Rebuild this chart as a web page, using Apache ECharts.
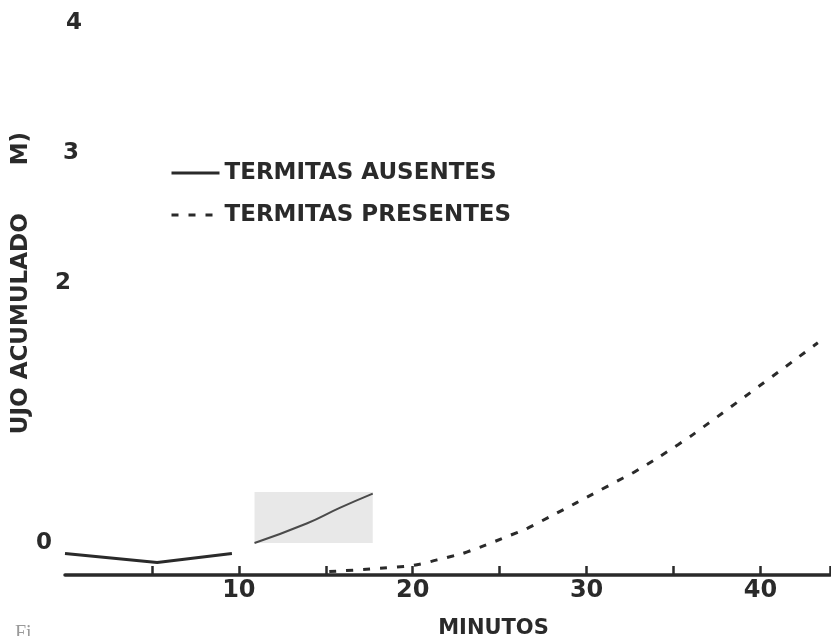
<!DOCTYPE html>
<html>
<head>
<meta charset="utf-8">
<script src="https://cdn.jsdelivr.net/npm/echarts@6/dist/echarts.min.js"></script>
<style>
  html, body { margin: 0; padding: 0; background: #ffffff; }
  #chart { width: 831px; height: 636px; }
</style>
</head>
<body>
<div id="chart"></div>
<script>
// ---- data (minutes, cumulative flow) ----
var xTickLabels = [10, 20, 30, 40];
var yTickLabels = [0, 2, 3, 4];
// TERMITAS AUSENTES: first visible stretch near the axis
var ausentesA = [[0, -0.08], [5.3, -0.15], [9.6, -0.08]];
// TERMITAS AUSENTES: stretch visible in the pasted patch
var ausentesB = [[10.9, 0.0], [13.9, 0.15], [15.8, 0.27], [17.7, 0.38]];
// TERMITAS PRESENTES (dashed)
var presentes = [
  [15.2, -0.22], [19.5, -0.18], [20.5, -0.16], [21.4, -0.13], [22.3, -0.10],
  [23.1, -0.07], [26.0, 0.08], [26.7, 0.12], [32.1, 0.50], [32.8, 0.55],
  [35.3, 0.76], [37.0, 0.92], [43.3, 1.54]
];
var seriesNames = ['TERMITAS AUSENTES', 'TERMITAS PRESENTES'];
var xName = 'MINUTOS';
var yName = 'UJO ACUMULADO      M)';

var ink = '#2a2a2a';
var font = 'DejaVu Sans';

var chart = echarts.init(document.getElementById('chart'), null, { renderer: 'canvas' });

chart.setOption({
  animation: false,
  backgroundColor: '#ffffff',
  grid: { left: 65, right: 1, top: 23, bottom: 93, containLabel: false, outerBoundsMode: 'none' },
  legend: {
    orient: 'vertical',
    left: 165,
    top: 155,
    itemWidth: 48,
    itemHeight: 12,
    itemGap: 16,
    data: seriesNames,
    itemStyle: { opacity: 0 },
    lineStyle: { width: 3 },
    textStyle: { color: ink, fontFamily: font, fontWeight: 'bold', fontSize: 23, lineHeight: 26 }
  },
  xAxis: {
    type: 'value',
    min: 0,
    max: 44,
    interval: 5,
    offset: 32,
    name: xName,
    nameLocation: 'middle',
    nameGap: 43,
    nameTextStyle: { color: ink, fontFamily: font, fontWeight: 'bold', fontSize: 21, padding: [0, 0, 0, 92] },
    axisLine: { show: true, onZero: false, lineStyle: { color: ink, width: 3.5 } },
    axisTick: { show: true, inside: true, length: 9, lineStyle: { color: ink, width: 2.5 },
                customValues: [5, 10, 15, 20, 25, 30, 35, 40, 44] },
    axisLabel: {
      color: ink, fontFamily: font, fontWeight: 'bold', fontSize: 24, margin: 4,
      formatter: function (v) { return xTickLabels.indexOf(v) >= 0 ? String(v) : ''; }
    },
    splitLine: { show: false }
  },
  yAxis: {
    type: 'value',
    min: 0,
    max: 4,
    interval: 1,
    name: yName,
    nameLocation: 'middle',
    nameRotate: 90,
    nameGap: 32,
    nameMoveOverlap: false,
    nameTextStyle: { color: ink, fontFamily: font, fontWeight: 'bold', fontSize: 23 },
    axisLine: { show: false },
    axisTick: { show: false },
    splitLine: { show: false },
    axisLabel: {
      inside: true,
      align: 'right',
      margin: 17,
      color: ink, fontFamily: font, fontWeight: 'bold', fontSize: 23,
      formatter: function (v) {
        if (yTickLabels.indexOf(v) < 0) return '';
        var key = { 0: 'd', 2: 'c', 3: 'b', 4: 'a' }[v];
        return '{' + key + '|' + v + '}';
      },
      rich: {
        a: { color: ink, fontFamily: font, fontWeight: 'bold', fontSize: 23, padding: [0, 0, 0, 0] },
        b: { color: ink, fontFamily: font, fontWeight: 'bold', fontSize: 23, padding: [0, 3, 0, 0] },
        c: { color: ink, fontFamily: font, fontWeight: 'bold', fontSize: 23, padding: [0, 11, 0, 0] },
        d: { color: ink, fontFamily: font, fontWeight: 'bold', fontSize: 23, padding: [0, 30, 0, 0] }
      }
    }
  },
  series: [
    {
      name: seriesNames[0],
      type: 'line',
      data: ausentesA,
      symbol: 'none',
      clip: false,
      lineStyle: { color: ink, width: 3 },
      itemStyle: { color: ink },
      z: 3
    },
    {
      name: seriesNames[0],
      type: 'line',
      data: ausentesB,
      symbol: 'none',
      smooth: true,
      clip: false,
      lineStyle: { color: '#4a4a4a', width: 2 },
      itemStyle: { color: '#4a4a4a' },
      markArea: {
        silent: true,
        itemStyle: { color: '#e8e8e8' },
        data: [[{ xAxis: ausentesB[0][0], yAxis: ausentesB[0][1] },
                { xAxis: ausentesB[ausentesB.length - 1][0], yAxis: 0.392 }]]
      },
      z: 3
    },
    {
      name: seriesNames[1],
      type: 'line',
      data: presentes,
      symbol: 'none',
      smooth: true,
      clip: false,
      lineStyle: { color: ink, width: 3, type: [7, 10] },
      itemStyle: { color: ink },
      z: 3
    }
  ],
  graphic: [
    {
      type: 'text',
      left: 15,
      top: 624,
      style: { text: 'Fi', fill: '#9a9a9a', font: '20px "Liberation Serif"' }
    }
  ]
});
</script>
</body>
</html>
